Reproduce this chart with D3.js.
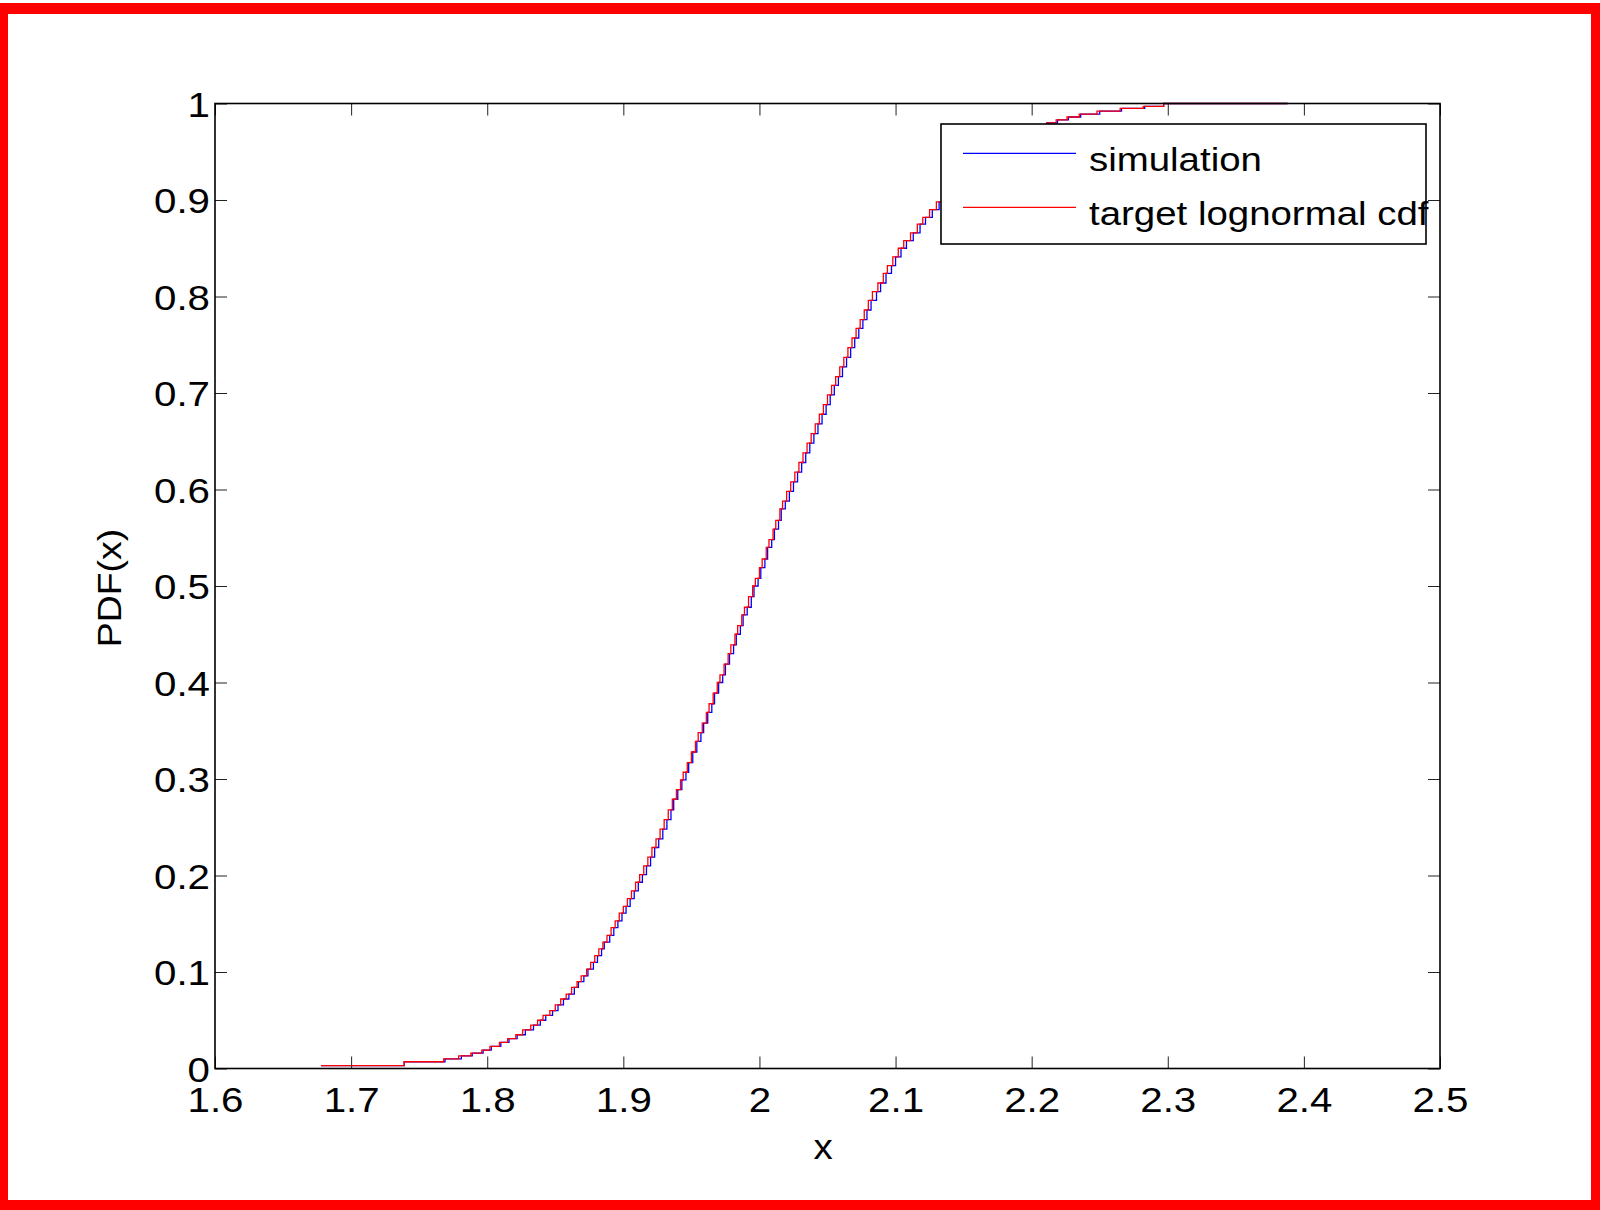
<!DOCTYPE html>
<html><head><meta charset="utf-8">
<script src="https://cdn.jsdelivr.net/npm/d3@7"></script>
<style>
body{margin:0;background:#fff}
svg{display:block}
text{font-family:"Liberation Sans", Arial, Helvetica, sans-serif; fill:#000}
</style>
</head><body>
<svg id="c" width="1600" height="1210"></svg>
<script>
// ---- data ----
const xTicks = [1.6,1.7,1.8,1.9,2.0,2.1,2.2,2.3,2.4,2.5];
const xTickLabels = ["1.6","1.7","1.8","1.9","2","2.1","2.2","2.3","2.4","2.5"];
const yTicks = [0,0.1,0.2,0.3,0.4,0.5,0.6,0.7,0.8,0.9,1.0];
const yTickLabels = ["0","0.1","0.2","0.3","0.4","0.5","0.6","0.7","0.8","0.9","1"];
const seriesNames = ["simulation","target lognormal cdf"];

const simX = [1.678,1.739,1.769,1.781,1.789,1.797,1.803,1.810,1.816,1.822,1.828,1.834,1.839,1.843,1.848,1.852,1.856,1.860,1.864,1.867,1.871,1.874,1.878,1.881,1.884,1.886,1.890,1.893,1.896,1.899,1.902,1.905,1.908,1.911,1.914,1.917,1.920,1.923,1.926,1.929,1.932,1.935,1.937,1.940,1.943,1.946,1.948,1.951,1.954,1.957,1.959,1.962,1.965,1.967,1.970,1.973,1.975,1.978,1.981,1.983,1.986,1.988,1.991,1.994,1.996,1.999,2.001,2.004,2.006,2.009,2.011,2.014,2.016,2.019,2.022,2.025,2.028,2.031,2.034,2.037,2.040,2.043,2.046,2.049,2.052,2.055,2.058,2.061,2.064,2.067,2.070,2.073,2.076,2.079,2.082,2.086,2.089,2.093,2.097,2.100,2.104,2.108,2.113,2.118,2.122,2.127,2.132,2.137,2.143,2.149,2.155,2.161,2.167,2.174,2.182,2.190,2.198,2.205,2.211,2.219,2.227,2.236,2.250,2.266,2.283,2.297,2.388];
const simY = [0.003,0.007,0.010,0.013,0.016,0.019,0.023,0.027,0.031,0.035,0.040,0.045,0.050,0.055,0.060,0.066,0.072,0.077,0.084,0.090,0.096,0.103,0.110,0.117,0.124,0.131,0.138,0.146,0.153,0.161,0.168,0.176,0.184,0.193,0.201,0.210,0.219,0.229,0.238,0.248,0.258,0.268,0.279,0.289,0.299,0.307,0.317,0.328,0.339,0.348,0.358,0.369,0.378,0.389,0.400,0.408,0.419,0.430,0.439,0.450,0.459,0.470,0.478,0.489,0.500,0.508,0.519,0.528,0.540,0.548,0.559,0.568,0.580,0.588,0.598,0.608,0.618,0.628,0.638,0.648,0.658,0.668,0.678,0.688,0.698,0.708,0.717,0.727,0.737,0.747,0.757,0.767,0.776,0.786,0.796,0.805,0.814,0.824,0.832,0.841,0.850,0.858,0.866,0.875,0.882,0.890,0.898,0.905,0.913,0.920,0.928,0.935,0.942,0.949,0.956,0.963,0.969,0.975,0.980,0.983,0.986,0.989,0.992,0.995,0.997,1.000,1.000];

const targetX = [1.678,1.739,1.768,1.779,1.788,1.796,1.802,1.809,1.815,1.821,1.826,1.832,1.837,1.841,1.846,1.850,1.854,1.858,1.862,1.866,1.869,1.873,1.876,1.879,1.882,1.885,1.888,1.891,1.894,1.897,1.900,1.903,1.906,1.909,1.912,1.915,1.918,1.921,1.924,1.927,1.930,1.933,1.936,1.939,1.942,1.944,1.947,1.950,1.953,1.955,1.958,1.961,1.963,1.966,1.969,1.971,1.974,1.977,1.979,1.982,1.984,1.987,1.989,1.992,1.995,1.997,2.000,2.002,2.005,2.007,2.010,2.012,2.015,2.017,2.020,2.023,2.026,2.029,2.032,2.035,2.038,2.041,2.044,2.047,2.050,2.053,2.056,2.059,2.062,2.065,2.068,2.071,2.074,2.077,2.080,2.083,2.087,2.091,2.094,2.098,2.102,2.106,2.111,2.116,2.120,2.125,2.130,2.135,2.141,2.147,2.153,2.159,2.165,2.172,2.180,2.188,2.196,2.204,2.211,2.218,2.226,2.235,2.248,2.265,2.282,2.297,2.388];
const targetY = [0.003,0.007,0.010,0.013,0.016,0.019,0.023,0.027,0.031,0.035,0.040,0.045,0.050,0.055,0.060,0.066,0.072,0.077,0.084,0.090,0.096,0.103,0.110,0.117,0.124,0.131,0.138,0.146,0.153,0.161,0.168,0.176,0.184,0.193,0.201,0.210,0.219,0.229,0.238,0.248,0.258,0.268,0.279,0.289,0.299,0.307,0.317,0.328,0.339,0.348,0.358,0.369,0.378,0.389,0.400,0.408,0.419,0.430,0.439,0.450,0.459,0.470,0.478,0.489,0.500,0.508,0.519,0.528,0.540,0.548,0.559,0.568,0.580,0.588,0.598,0.608,0.618,0.628,0.638,0.648,0.658,0.668,0.678,0.688,0.698,0.708,0.717,0.727,0.737,0.747,0.757,0.767,0.776,0.786,0.796,0.805,0.814,0.824,0.832,0.841,0.850,0.858,0.866,0.875,0.882,0.890,0.898,0.905,0.913,0.920,0.928,0.935,0.942,0.949,0.956,0.963,0.969,0.975,0.980,0.983,0.986,0.989,0.992,0.995,0.997,1.000,1.000];

// ---- layout ----
const svg = d3.select("#c");
const L = 215, R = 1440, T = 103.5, B = 1068.5;
const x = d3.scaleLinear().domain([1.6, 2.5]).range([L, R]);
const y = d3.scaleLinear().domain([0, 1]).range([B, T]);
const TS = 1.15, LS = 1.1, GS = 1.13;

// red outer border
const borderColor = "#ff0000";
[[0,3,1600,11],[0,3,8,1207],[0,1200,1600,10],[1591,3,9,1207]].forEach(r =>
  svg.append("rect").attr("x",r[0]).attr("y",r[1]).attr("width",r[2]).attr("height",r[3]).attr("fill",borderColor));

// curves
const line = d3.line().x(d => x(d[0])).y(d => y(d[1])).curve(d3.curveStepAfter);
const simData = simX.map((v,i) => [v, simY[i]]);
const tgtData = targetX.map((v,i) => [v, targetY[i]]);
svg.append("path").datum(simData).attr("d", line).attr("fill","none").attr("stroke","#0000ff").attr("stroke-width",1.3);
svg.append("path").datum(tgtData).attr("d", line).attr("fill","none").attr("stroke","#ff0000").attr("stroke-width",1.3);

// axes (ticks inward on all four sides)
function styleAxis(g){
  g.select(".domain").remove();
  g.selectAll(".tick line").attr("stroke","#222").attr("stroke-width",1);
}
const gx = svg.append("g").attr("transform",`translate(0,${B})`)
  .call(d3.axisBottom(x).tickValues(xTicks).tickSizeInner(-12).tickSizeOuter(0).tickFormat((d,i)=>xTickLabels[i]));
styleAxis(gx);
gx.selectAll(".tick text").attr("y",0).attr("dy",0).attr("font-size",35)
  .attr("font-family",'"Liberation Sans", Arial, sans-serif')
  .attr("text-anchor","middle").attr("fill","#000")
  .attr("transform",`translate(0,43.5) scale(${TS},1)`);

const gy = svg.append("g").attr("transform",`translate(${L},0)`)
  .call(d3.axisLeft(y).tickValues(yTicks).tickSizeInner(-12).tickSizeOuter(0).tickFormat((d,i)=>yTickLabels[i]));
styleAxis(gy);
gy.selectAll(".tick text").attr("x",0).attr("dy",0).attr("font-size",35)
  .attr("font-family",'"Liberation Sans", Arial, sans-serif')
  .attr("text-anchor","end").attr("fill","#000")
  .attr("transform",`translate(-5,12.5) scale(${TS},1)`);

const gt = svg.append("g").attr("transform",`translate(0,${T})`)
  .call(d3.axisTop(x).tickValues(xTicks).tickSizeInner(-12).tickSizeOuter(0).tickFormat(""));
styleAxis(gt);
const gr = svg.append("g").attr("transform",`translate(${R},0)`)
  .call(d3.axisRight(y).tickValues(yTicks).tickSizeInner(-12).tickSizeOuter(0).tickFormat(""));
styleAxis(gr);

// frame
svg.append("rect").attr("x",L).attr("y",T).attr("width",R-L).attr("height",B-T)
  .attr("fill","none").attr("stroke","#000").attr("stroke-width",1.6);

// axis labels
svg.append("text").attr("transform",`translate(823,1159) scale(${LS},1)`)
  .attr("text-anchor","middle").attr("font-size",35).text("x");
svg.append("text").attr("transform",`translate(121,588) rotate(-90) scale(${LS},1)`)
  .attr("text-anchor","middle").attr("font-size",34).text("PDF(x)");

// legend
const lg = svg.append("g");
lg.append("rect").attr("x",941).attr("y",124).attr("width",485).attr("height",120)
  .attr("fill","#fff").attr("stroke","#000").attr("stroke-width",1.6);
const legColors = ["#0000ff","#ff0000"];
seriesNames.forEach((n,i) => {
  const ly = 153.3 + i*54;
  lg.append("line").attr("x1",963).attr("x2",1076).attr("y1",ly).attr("y2",ly)
    .attr("stroke",legColors[i]).attr("stroke-width",1.3);
  lg.append("text").attr("transform",`translate(1089,${171 + i*54}) scale(${GS},1)`)
    .attr("font-size",34).text(n);
});
</script>
</body></html>
